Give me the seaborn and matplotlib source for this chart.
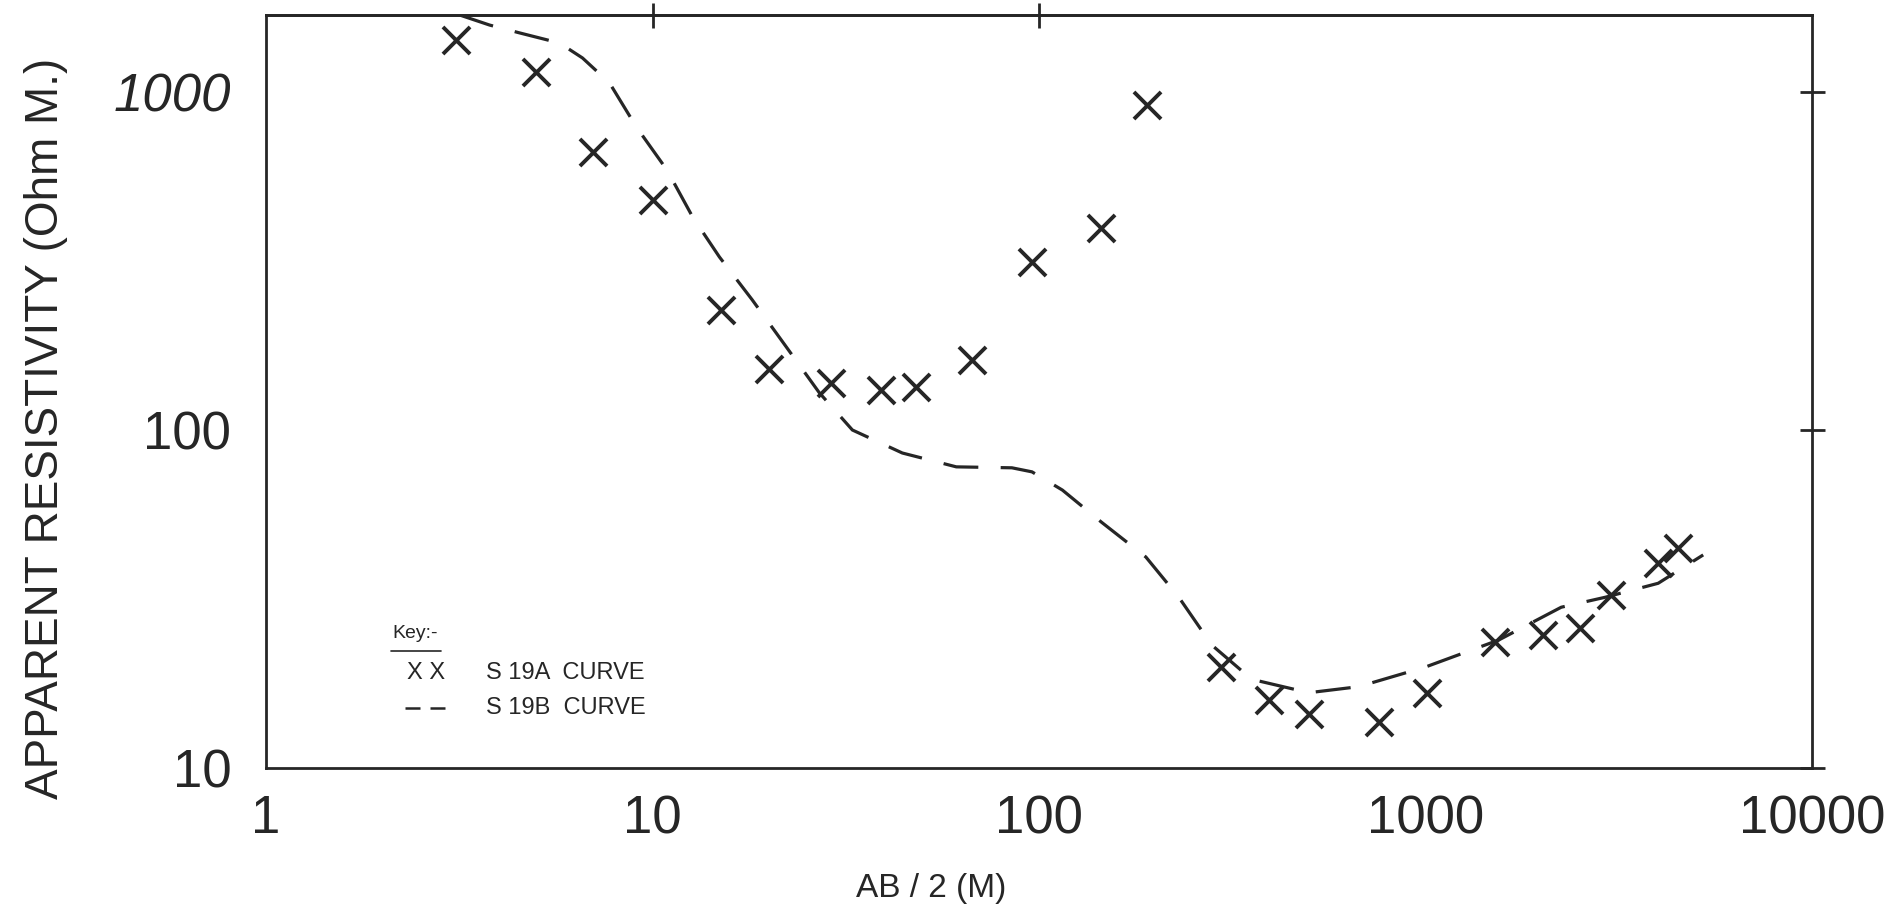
import matplotlib
matplotlib.use("Agg")
import matplotlib.pyplot as plt
from matplotlib.ticker import NullLocator
import seaborn as sns
import pandas as pd

# S19A measured points (crosses)
ab2_a = [3.1, 5, 7, 10, 15, 20, 29, 39, 48, 67, 96, 145, 190,
         295, 393, 500, 756, 1007, 1517, 2017, 2517, 3026, 4000, 4508]
rho_a = [1425, 1146, 664, 479, 226, 152, 138, 131, 134, 161, 314, 396, 916,
         19.9, 15.9, 14.4, 13.7, 16.7, 23.6, 24.7, 25.9, 32.5, 40.5, 44.8]

# S19B curve (dashed)
ab2_b = [3.17, 3.79, 4.53, 5.75, 6.59, 7.74, 9.09, 10.9, 12.7, 14.9, 18.1, 22.2,
         27.0, 32.9, 44.3, 61.1, 85.1, 95.9, 115, 145, 189, 230, 280, 355,
         499, 671, 1000, 1545, 2245, 2917, 4000, 5230]
rho_b = [1690, 1578, 1496, 1396, 1261, 1064, 787, 588, 427, 325, 243, 176,
         129, 100, 85.5, 77.8, 77.3, 75.2, 66.4, 53.4, 42.1, 32.0, 23.1, 18.3,
         16.7, 17.4, 19.9, 23.9, 29.9, 32.0, 35.2, 42.7]

x_ticks = [1, 10, 100, 1000, 10000]
x_ticklabels = ["1", "10", "100", "1000", "10000"]
top_ticks = [10, 100]
y_ticks = [10, 100, 1000]
y_ticklabels = ["10", "100", "1000"]

sns.set_theme(style="white")
plt.rcParams["font.family"] = ["Liberation Sans", "DejaVu Sans"]

ink = "#262626"
fig = plt.figure(figsize=(18.98, 9.13), dpi=100)
ax = fig.add_axes([266/1898, 1-768/913, 1546/1898, 753/913])
ax.set_xscale("log")
ax.set_yscale("log")

df_b = pd.DataFrame({"ab2": ab2_b, "rho": rho_b})
sns.lineplot(data=df_b, x="ab2", y="rho", ax=ax, color=ink, lw=2.3,
             linestyle=(0, (11, 7)), sort=False, estimator=None)

df_a = pd.DataFrame({"ab2": ab2_a, "rho": rho_a})
sns.scatterplot(data=df_a, x="ab2", y="rho", ax=ax, marker="x", s=380,
                color=ink, linewidth=2.8, zorder=3)

ax.set_xlim(1, 10000)
ax.set_ylim(10, 1690)
ax.set_xticks(x_ticks)
ax.set_xticklabels(x_ticklabels)
ax.set_yticks(y_ticks)
ax.set_yticklabels(y_ticklabels)
ax.minorticks_off()
ax.tick_params(axis="both", which="major", direction="inout", length=18,
               width=2, color=ink, labelcolor=ink, labelsize=38,
               top=False, right=True)
ax.tick_params(axis="y", pad=16)
ax.tick_params(axis="x", pad=10)
for lab in ax.get_yticklabels():
    if lab.get_text() == "1000":
        lab.set_fontstyle("italic")
for sp in ax.spines.values():
    sp.set_linewidth(2)
    sp.set_color(ink)

sec = ax.secondary_xaxis("top")
sec.set_xticks(top_ticks)
sec.set_xticklabels([])
sec.xaxis.set_minor_locator(NullLocator())
sec.tick_params(direction="inout", length=18, width=2, color=ink)
sec.spines["top"].set_linewidth(2)
sec.spines["top"].set_color(ink)

ax.set_xlabel("AB / 2 (M)", fontsize=24, color=ink)
ax.xaxis.set_label_coords(0.430, -0.140)
ax.set_ylabel("APPARENT RESISTIVITY (Ohm M.)", fontsize=33, color=ink)
ax.yaxis.set_label_coords(-0.128, 0.451)

# Key
ax.text(0.082, 0.178, "Key:-", transform=ax.transAxes, fontsize=14,
        color=ink, va="center", ha="left")
ax.plot([0.081, 0.113], [0.155, 0.155], transform=ax.transAxes,
        color=ink, lw=1.2, clip_on=False)
ax.text(0.091, 0.126, "X X", transform=ax.transAxes, fontsize=17,
        color=ink, va="center", ha="left")
ax.text(0.142, 0.126, "S 19A  CURVE", transform=ax.transAxes, fontsize=17,
        color=ink, va="center", ha="left")
ax.plot([0.090, 0.122], [0.080, 0.080], transform=ax.transAxes,
        color=ink, lw=1.8, linestyle=(0, (6, 4)), clip_on=False)
ax.text(0.142, 0.080, "S 19B  CURVE", transform=ax.transAxes, fontsize=17,
        color=ink, va="center", ha="left")

fig.savefig("out.png", dpi=100, facecolor="white")
